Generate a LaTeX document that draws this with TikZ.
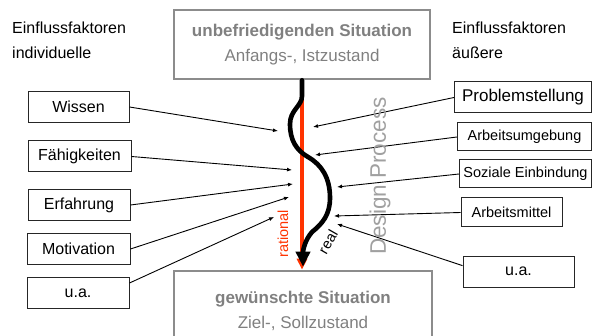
\documentclass[tikz,border=0pt]{standalone}
\usepackage{fontspec}
\setmainfont{Liberation Sans}
\usetikzlibrary{arrows.meta}
\definecolor{clrFrame}{RGB}{140,140,140}
\definecolor{clrState}{RGB}{128,128,128}
\definecolor{clrRational}{RGB}{255,51,0}
\definecolor{clrDesign}{RGB}{160,160,160}

\begin{document}
\begin{tikzpicture}[
  x=1pt, y=-1pt,
  state/.style={rectangle, draw=clrFrame, line width=2.6pt, text=clrState,
                font=\fontsize{17}{25}\selectfont, align=center, inner sep=0pt},
  factor/.style={rectangle, draw=black!85, line width=1pt, fill=white,
                 font=\fontsize{16}{18}\selectfont, inner sep=0pt,
                 minimum height=31pt},
  smallfactor/.style={factor, font=\fontsize{14.5}{16}\selectfont,
                      minimum height=28pt},
  head/.style={font=\fontsize{16}{25}\selectfont, align=left,
               inner sep=0pt, anchor=west},
  arr/.style={-{Latex[length=5pt,width=4pt]}, line width=0.9pt},
  rationalarr/.style={-{Triangle[length=11pt,width=10pt]}, line width=3.6pt,
                      draw=clrRational},
  realarr/.style={-{Triangle[length=15pt,width=14pt]}, line width=4.6pt,
                  line cap=round}
]
\useasboundingbox (0,0) rectangle (593,336);
\clip (0,0) rectangle (593,336);

% start and goal
\node[state, minimum width=256pt, minimum height=69pt] (start) at (302,44.5)
      {\textbf{unbefriedigenden Situation}\\Anfangs-, Istzustand};
\node[state, minimum width=258pt, minimum height=80pt] (goal) at (303,311)
      {\textbf{gewünschte Situation}\\Ziel-, Sollzustand};

% headings
\node[head] (headL) at (12,40.5) {Einflussfaktoren\\individuelle};
\node[head] (headR) at (452,40.5) {Einflussfaktoren\\äußere};

% individual factors
\node[factor, minimum width=101pt] (wissen) at (78.5,107) {Wissen};
\node[factor, minimum width=103pt] (faehig) at (79.5,156.5) {Fähigkeiten};
\node[factor, minimum width=102pt] (erfahr) at (79,205) {Erfahrung};
\node[factor, minimum width=103pt] (motiv)  at (78.5,249) {Motivation};
\node[factor, minimum width=102pt] (uaL)    at (78,293) {u.a.};

% external factors
\node[factor, font=\fontsize{17}{18}\selectfont, minimum width=137pt]
      (problem) at (523,97.5) {Problemstellung};
\node[smallfactor, minimum width=134pt] (umgeb)  at (524.5,137) {Arbeitsumgebung};
\node[smallfactor, minimum width=132pt] (sozial) at (525.5,174) {Soziale Einbindung};
\node[smallfactor, minimum width=101pt, minimum height=29pt]
      (mittel) at (511.5,212.5) {Arbeitsmittel};
\node[factor, minimum width=111pt] (uaR) at (518.5,271.5) {u.a.};

% arrow ends along the process
\coordinate (tWissen)  at (278,131);
\coordinate (tFaehig)  at (292,170);
\coordinate (tErfahr)  at (293,184);
\coordinate (tMotiv)   at (289,197);
\coordinate (tUaL)     at (274,217);
\coordinate (tProblem) at (313,127);
\coordinate (tUmgeb)   at (315,155);
\coordinate (tSozial)  at (337,187);
\coordinate (tMittel)  at (334,216);
\coordinate (tUaR)     at (337,224);

\draw[arr] (wissen.east)  -- (tWissen);
\draw[arr] (faehig.east)  -- (tFaehig);
\draw[arr] (erfahr.east)  -- (tErfahr);
\draw[arr] (motiv.east)   -- (tMotiv);
\draw[arr] (uaL.11)       -- (tUaL);
\draw[arr] (problem.west) -- (tProblem);
\draw[arr] (umgeb.west)   -- (tUmgeb);
\draw[arr] (sozial.west)  -- (tSozial);
\draw[arr] (mittel.west)  -- (tMittel);
\draw[arr] (uaR.174)      -- (tUaR);

% rational vs. real path
\draw[rationalarr] (start.south) -- (start.south |- goal.north);
\draw[realarr, shorten >=3pt] (start.south) -- (302,96)
  .. controls (302,106) and (290,110) .. (290,124)
  .. controls (290,140) and (296,150) .. (308,157)
  .. controls (322,165) and (330,178) .. (330,198)
  .. controls (330,215) and (322,224) .. (312,232)
  .. controls (305,240) and (303,250) .. (goal.north);

\node[rotate=90, text=clrRational, font=\fontsize{14.5}{16}\selectfont]
      (rational) at (283,234) {rational};
\node[rotate=60, font=\fontsize{14.5}{16}\selectfont] (real) at (328,242) {real};
\node[rotate=90, text=clrDesign, font=\fontsize{22.5}{24}\selectfont]
      (design) at (380,176) {Design Process};
\end{tikzpicture}
\end{document}
